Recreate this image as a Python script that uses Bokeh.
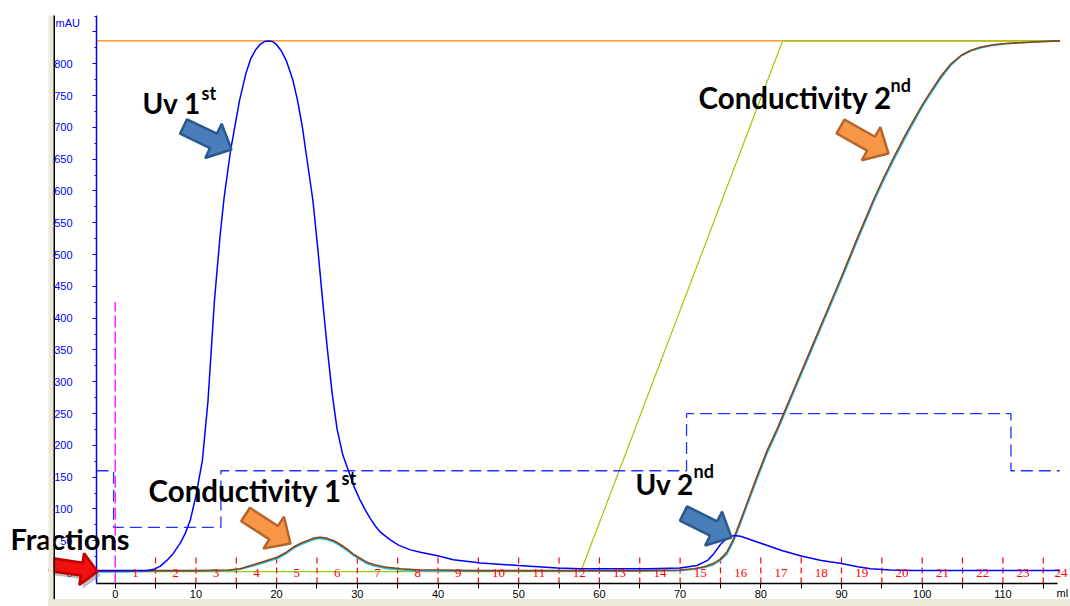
import math
from bokeh.plotting import figure
from bokeh.models import (Label, LabelSet, PolyAnnotation, BoxAnnotation,
                          FixedTicker, ColumnDataSource, Range1d)
from bokeh.embed import file_html
from bokeh.resources import INLINE

# ---------------- data ----------------
uv_ml = [-2.32, 0, 2, 4, 4.8, 5.6, 6.4, 7.2, 8.1, 8.7, 9.3, 10.0, 10.8, 11.5, 12.3,
         13.0, 13.5, 14.3, 15.4, 16.2, 16.8, 17.4, 18.0, 18.5, 19.0, 19.5, 20.0,
         20.6, 21.2, 22.0, 22.6, 23.2, 23.6, 24.5, 25.1, 25.7, 26.3, 26.9, 27.5,
         28.2, 28.9, 29.6, 30.3, 31.0, 31.6, 32.3, 32.9, 34.0, 35.1, 36.5, 37.8,
         40.1, 41.9, 45.3, 50.0, 54.8, 57.7, 62, 66, 70, 72.1, 73.4, 74.2, 75.0,
         75.8, 76.6, 77.5, 80, 82.5, 85, 87.5, 90, 92, 93.6, 96, 98.9, 105, 110,
         115, 117.05]
uv_mau = [3, 3, 3, 3, 5, 10, 19, 30, 47, 62, 82, 120, 176, 270, 428,
          530, 590, 664, 742, 785, 808, 822, 831, 835, 836, 835, 830,
          820, 805, 775, 742, 700, 664, 585, 510, 428, 350, 280, 225,
          185, 160, 135, 115, 98, 85, 72, 63, 52, 43, 36, 32,
          26, 20, 15, 11, 7, 6, 6, 6, 7, 11, 19, 30, 44,
          54, 58, 57, 46, 35, 26, 19, 14, 9, 6, 4, 3, 3, 3,
          3, 3]

cond_ml = [-2.32, 0, 5, 10, 14, 15.5, 17.2, 18.6, 20.1, 21.1, 22.1, 23.0, 23.8,
           24.6, 25.4, 26.2, 27.1, 27.9, 28.7, 29.5, 30.4, 31.2, 32.0, 33.7,
           35.4, 37.8, 40, 45, 50, 55, 60, 65, 70, 71.7, 73, 74.1, 75, 75.8,
           76.6, 77.5, 78.5, 79.5, 80.8, 82, 83, 84, 86, 88, 90, 92, 94, 95.2,
           96.4, 98, 100, 101, 102.3, 103.5, 104.8, 106, 107.2, 108.8, 110.5, 112.2,
           115, 117.05]
cond_ms = [2, 2, 3, 3, 4, 6, 12.5, 18, 24, 31, 40, 46, 50,
           54, 55.5, 54, 50, 44, 37, 29, 22, 16, 12.5, 8,
           6, 4, 4, 3, 3, 3, 3, 3, 4, 6, 9, 14, 21, 32,
           52, 82, 116, 150, 192, 225, 255, 285, 345, 405, 465, 527, 587, 620,
           651, 690, 735, 755, 780, 799, 813, 821, 826, 830, 832, 833,
           835, 836]
cond_trace2 = [1, 1, 2, 2, 3, 5, 10.5, 16, 22, 29, 38, 44, 48,
               52, 53.5, 52, 48, 42, 35, 27, 20, 14, 10.5, 6,
               4, 2, 2, 2, 2, 2, 2, 2, 3, 5, 8, 12, 19, 29,
               48, 78, 112, 146, 188, 221, 251, 281, 341, 401, 461, 523, 583, 616,
               647, 686, 732, 752, 777, 797, 812, 820, 825, 829, 832, 833,
               835, 836]

grad_ml = [0, 57.7, 82.7, 117.05]
grad_val = [1.5, 1.5, 836, 836]

flow_ml = [-2.32, 117.05]
flow_val = [836, 836]

press_ml = [-2.32, -0.2, -0.2, 13.1, 13.1, 70.8, 70.8, 111.0, 111.0, 117.05]
press_val = [160, 160, 71, 71, 160, 160, 250, 250, 160, 160]

inject_ml = [0]
inject_top = [425]

frac_edges = [5, 10, 15, 20, 25, 30, 35, 40, 45, 50, 55, 60, 65, 70, 75, 80,
              85, 90, 95, 100, 105, 110, 115]
frac_centers = [2.5, 7.5, 12.5, 17.5, 22.5, 27.5, 32.5, 37.5, 42.5, 47.5, 52.5,
                57.5, 62.5, 67.5, 72.5, 77.5, 82.5, 87.5, 92.5, 97.5, 102.5,
                107.5, 112.5, 117.2]
frac_labels = ["1", "2", "3", "4", "5", "6", "7", "8", "9", "10", "11", "12",
               "13", "14", "15", "16", "17", "18", "19", "20", "21", "22", "23", "24"]

y_ticks = [0, 50, 100, 150, 200, 250, 300, 350, 400, 450, 500, 550, 600, 650,
           700, 750, 800, 850]
y_minor = [25, 75, 125, 175, 225, 275, 325, 375, 425, 475, 525, 575, 625, 675,
           725, 775, 825, 875]
x_ticks = [0, 10, 20, 30, 40, 50, 60, 70, 80, 90, 100, 110]
x_minor = [5, 15, 25, 35, 45, 55, 65, 75, 85, 95, 105, 115]

# ---------------- page <-> data mapping ----------------
W, H = 1070, 606
PX0, KX = 114.7, 8.07      # page x of 0 ml, px per ml
PY0, KY = 572.0, 0.6359    # page y of 0 mAU, px per mAU


def dx(X):
    return (X - PX0) / KX


def dy(Y):
    return (PY0 - Y) / KY


AX_X = dx(96)      # y axis position (ml)
AX_Y = dy(583)     # x axis position (mAU)

p = figure(width=W, height=H,
           x_range=Range1d(dx(0), dx(W)), y_range=Range1d(dy(H), dy(0)),
           output_backend="svg", toolbar_location=None,
           min_border_left=0, min_border_right=0, min_border_top=0,
           min_border_bottom=0)
p.grid.visible = False
p.outline_line_color = None
p.background_fill_color = "white"
p.border_fill_color = "white"

ya = p.yaxis[0]
ya.fixed_location = AX_X
ya.bounds = (AX_Y, dy(15))
ya.ticker = FixedTicker(ticks=y_ticks, minor_ticks=y_minor)
ya.major_label_overrides = {850: ""}
ya.axis_line_color = "#0000FF"
ya.axis_line_width = 1.5
ya.major_tick_line_color = "#0000FF"
ya.minor_tick_line_color = "#0000FF"
ya.major_tick_out = 4
ya.major_tick_in = 0
ya.minor_tick_out = 2
ya.minor_tick_in = 0
ya.major_label_text_color = "#0000FF"
ya.major_label_text_font = "Liberation Sans"
ya.major_label_text_font_size = "11px"
ya.major_label_standoff = 20

xa = p.xaxis[0]
xa.fixed_location = AX_Y
xa.bounds = (AX_X, dx(1057))
xa.ticker = FixedTicker(ticks=x_ticks, minor_ticks=x_minor)
xa.axis_line_color = "black"
xa.axis_line_width = 1.5
xa.major_tick_line_color = "black"
xa.minor_tick_line_color = "black"
xa.major_tick_out = 5
xa.major_tick_in = 0
xa.minor_tick_out = 5
xa.minor_tick_in = 0
xa.major_label_text_color = "black"
xa.major_label_text_font = "Liberation Sans"
xa.major_label_text_font_size = "11px"
xa.major_label_standoff = 1

# ---------------- traces ----------------
p.line(flow_ml, flow_val, line_color="#FF8000", line_width=1.2)
p.line(grad_ml, grad_val, line_color="#99CC00", line_width=1.2)
p.line(press_ml, press_val, line_color="#2233FF", line_width=1.3, line_dash="12 6")
p.segment(x0=inject_ml, y0=[AX_Y], x1=inject_ml, y1=inject_top,
          line_color="#FF00FF", line_width=1.3, line_dash="12 4")
mark_top = dy(555)
p.segment(x0=frac_edges, y0=[AX_Y] * len(frac_edges), x1=frac_edges,
          y1=[mark_top] * len(frac_edges), line_color="#FF0000", line_width=1.2,
          line_dash="6 4")
frac_src = ColumnDataSource(dict(x=frac_centers, y=[0] * len(frac_centers), t=frac_labels))
p.add_layout(LabelSet(x="x", y="y", text="t", source=frac_src, text_align="center",
                      text_baseline="middle", text_color="#FF0000",
                      text_font="Liberation Sans", text_font_size="13px"))
p.line(cond_ml, cond_trace2, line_color="#20C0F0", line_width=1.6)
p.line(cond_ml, cond_ms, line_color="#8B4010", line_width=1.6)
p.line(uv_ml, uv_mau, line_color="#0000FF", line_width=1.5)


# ---------------- decorations (positions given in page pixels) ----------------
def block_arrow(tail, tip, shaft, head, head_len):
    (x0, y0), (x1, y1) = tail, tip
    ddx, ddy = x1 - x0, y1 - y0
    L = math.hypot(ddx, ddy)
    ux, uy = ddx / L, ddy / L
    nx, ny = -uy, ux
    bx, by = x1 - ux * head_len, y1 - uy * head_len
    a, b = shaft / 2, head / 2
    pts = [(x0 + nx * a, y0 + ny * a), (bx + nx * a, by + ny * a),
           (bx + nx * b, by + ny * b), (x1, y1), (bx - nx * b, by - ny * b),
           (bx - nx * a, by - ny * a), (x0 - nx * a, y0 - ny * a)]
    return [dx(X) for X, Y in pts], [dy(Y) for X, Y in pts]


def add_arrow(tail, tip, fill, line, shaft=16, head=38, head_len=20, shadow=False):
    if shadow:
        xs, ys = block_arrow((tail[0] + 3, tail[1] + 4), (tip[0] + 3, tip[1] + 4),
                             shaft, head, head_len)
        p.add_layout(PolyAnnotation(xs=xs, ys=ys, fill_color="#808080",
                                    fill_alpha=0.5, line_alpha=0))
    xs, ys = block_arrow(tail, tip, shaft, head, head_len)
    p.add_layout(PolyAnnotation(xs=xs, ys=ys, fill_color=fill, fill_alpha=1.0,
                                line_color=line, line_width=2.5, line_alpha=1.0))


BLUE_F, BLUE_L = "#4A7EBB", "#2C5890"
ORNG_F, ORNG_L = "#F79646", "#B5652A"
add_arrow((183, 126), (231, 149), BLUE_F, BLUE_L)
add_arrow((840, 126), (888, 153), ORNG_F, ORNG_L)
add_arrow((245, 514), (290, 543), ORNG_F, ORNG_L)
add_arrow((683, 513), (731, 537), BLUE_F, BLUE_L)
add_arrow((50, 564), (97, 571), "#F01010", "#C00000", shaft=13, head=32,
          head_len=16, shadow=True)


def add_text(X, Y, txt, size="28px"):
    p.add_layout(Label(x=dx(X), y=dy(Y), text=txt,
                       text_font="Lato", text_font_style="bold", text_font_size=size,
                       text_color="black", text_baseline="alphabetic", text_align="left"))


add_text(142, 102, "Uv 1")
add_text(201, 92, "st", "18px")
add_text(698, 97, "Conductivity 2", "29.5px")
add_text(890, 84, "nd", "18px")
add_text(148, 490, "Conductivity 1", "29.5px")
add_text(341, 477, "st", "18px")
add_text(635, 483, "Uv 2")
add_text(693, 470, "nd", "18px")
add_text(10, 538, "Fractions", "29px")

# axis caption texts
p.add_layout(Label(x=dx(55), y=dy(22), text="mAU",
                   text_font="Liberation Sans", text_font_size="11px", text_color="#0000FF",
                   text_baseline="alphabetic"))
p.add_layout(Label(x=dx(1056), y=dy(592), text="ml",
                   text_font="Liberation Sans", text_font_size="11px", text_color="black",
                   text_baseline="alphabetic"))

# window frame bars
p.add_layout(BoxAnnotation(left=dx(48), right=dx(53), top=dy(15), bottom=dy(606),
                           fill_color="#ECE9D8", fill_alpha=1, line_alpha=0))
p.add_layout(BoxAnnotation(left=dx(53), right=dx(54.5), top=dy(15), bottom=dy(599),
                           fill_color="black", fill_alpha=1, line_alpha=0))
p.add_layout(BoxAnnotation(left=dx(48), right=dx(1070), top=dy(599), bottom=dy(606),
                           fill_color="#ECE9D8", fill_alpha=1,
                           line_color="#D4D0C8", line_width=1))

open("out.html", "w").write(file_html(p, INLINE))
